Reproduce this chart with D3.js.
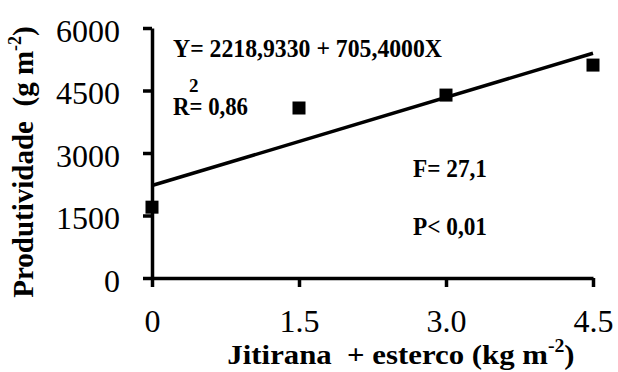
<!DOCTYPE html>
<html>
<head>
<meta charset="utf-8">
<script src="https://cdn.jsdelivr.net/npm/d3@7"></script>
<style>
  html, body { margin: 0; padding: 0; background: #fff; }
  svg text { font-family: "Liberation Serif", "Times New Roman", "DejaVu Serif", serif; }
</style>
</head>
<body>
<div id="chart"></div>
<script>
// data
const doses = [0, 1.5, 3.0, 4.5];
const produtividade = [1700, 4080, 4390, 5110];
// fitted line Y = 2218,9330 + 705,4000X, evaluated at the ends of the axis
const fitX = [0, 4.5];
const fitY = [2218.933, 5393.233];
const yTicks = [0, 1500, 3000, 4500, 6000];
const xTicks = [0, 1.5, 3.0, 4.5];
const xTickLabels = ["0", "1.5", "3.0", "4.5"];

const width = 618, height = 372;
const x0 = 152, x1 = 593, yBottom = 278, yTop = 28;
const serif = "Liberation Serif";

const svg = d3.select("#chart").append("svg")
  .attr("width", width)
  .attr("height", height);

const x = d3.scaleLinear().domain([0, 4.5]).range([x0, x1]);
const y = d3.scaleLinear().domain([0, 6000]).range([yBottom, yTop]);

// y axis
const yAxis = svg.append("g")
  .attr("transform", "translate(" + x0 + ",0)")
  .call(d3.axisLeft(y).tickValues(yTicks).tickSize(9).tickSizeOuter(0)
    .tickFormat(d => String(d)));

// x axis
const xAxis = svg.append("g")
  .attr("transform", "translate(0," + yBottom + ")")
  .call(d3.axisBottom(x).tickValues(xTicks).tickSize(9).tickSizeOuter(0)
    .tickFormat((d, i) => xTickLabels[i]));

[yAxis, xAxis].forEach(function(g) {
  g.attr("font-family", serif);
  g.select(".domain").attr("stroke", "#000").attr("stroke-width", 3.5);
  g.selectAll(".tick line").attr("stroke", "#000").attr("stroke-width", 3.5);
  g.selectAll(".tick text")
    .attr("fill", "#000")
    .attr("font-family", serif)
    .attr("font-size", "32px");
});

yAxis.selectAll(".tick text")
  .attr("x", -32)
  .attr("dy", "13px");

xAxis.selectAll(".tick text")
  .attr("y", 54)
  .attr("dy", 0);

// regression line
const line = d3.line()
  .x(d => x(d[0]))
  .y(d => y(d[1]));

svg.append("path")
  .datum(fitX.map((v, i) => [v, fitY[i]]))
  .attr("d", line)
  .attr("fill", "none")
  .attr("stroke", "#000")
  .attr("stroke-width", 3.5);

// observed points
const sq = 13;
svg.selectAll(".pt")
  .data(doses.map((d, i) => ({ x: d, y: produtividade[i] })))
  .enter()
  .append("rect")
  .attr("class", "pt")
  .attr("x", d => x(d.x) - sq / 2)
  .attr("y", d => y(d.y) - sq / 2)
  .attr("width", sq)
  .attr("height", sq)
  .attr("fill", "#000");

// annotations
function note(txt, px, py, len) {
  return svg.append("text")
    .attr("x", px)
    .attr("y", py)
    .attr("font-family", serif)
    .attr("font-size", "26px")
    .attr("font-weight", "bold")
    .attr("fill", "#000")
    .attr("textLength", len)
    .attr("lengthAdjust", "spacingAndGlyphs")
    .text(txt);
}
note("Y= 2218,9330 + 705,4000X", 173, 57, 269);
note("R= 0,86", 173, 115, 75);
svg.append("text")
  .attr("x", 189).attr("y", 92)
  .attr("font-family", serif)
  .attr("font-size", "19px").attr("font-weight", "bold")
  .text("2");
note("F= 27,1", 413, 177, 74);
note("P< 0,01", 413, 235, 74);

// axis titles
const xTitle = svg.append("text")
  .attr("transform", "translate(401,364) scale(1.1,1)")
  .attr("text-anchor", "middle")
  .attr("font-family", serif)
  .attr("font-size", "28px")
  .attr("font-weight", "bold")
  .attr("fill", "#000");
xTitle.append("tspan").text("Jitirana\u00A0 + esterco (kg m");
xTitle.append("tspan").attr("dy", -12).attr("font-size", "18px").text("-2");
xTitle.append("tspan").attr("dy", 12).text(")");

const yTitle = svg.append("text")
  .attr("transform", "translate(33,162) rotate(-90)")
  .attr("text-anchor", "middle")
  .attr("font-family", serif)
  .attr("font-size", "29px")
  .attr("font-weight", "bold")
  .attr("fill", "#000");
yTitle.append("tspan").text("Produtividade\u00A0 (g m");
yTitle.append("tspan").attr("dy", -12).attr("font-size", "18px").text("-2");
yTitle.append("tspan").attr("dy", 12).text(")");
</script>
</body>
</html>
